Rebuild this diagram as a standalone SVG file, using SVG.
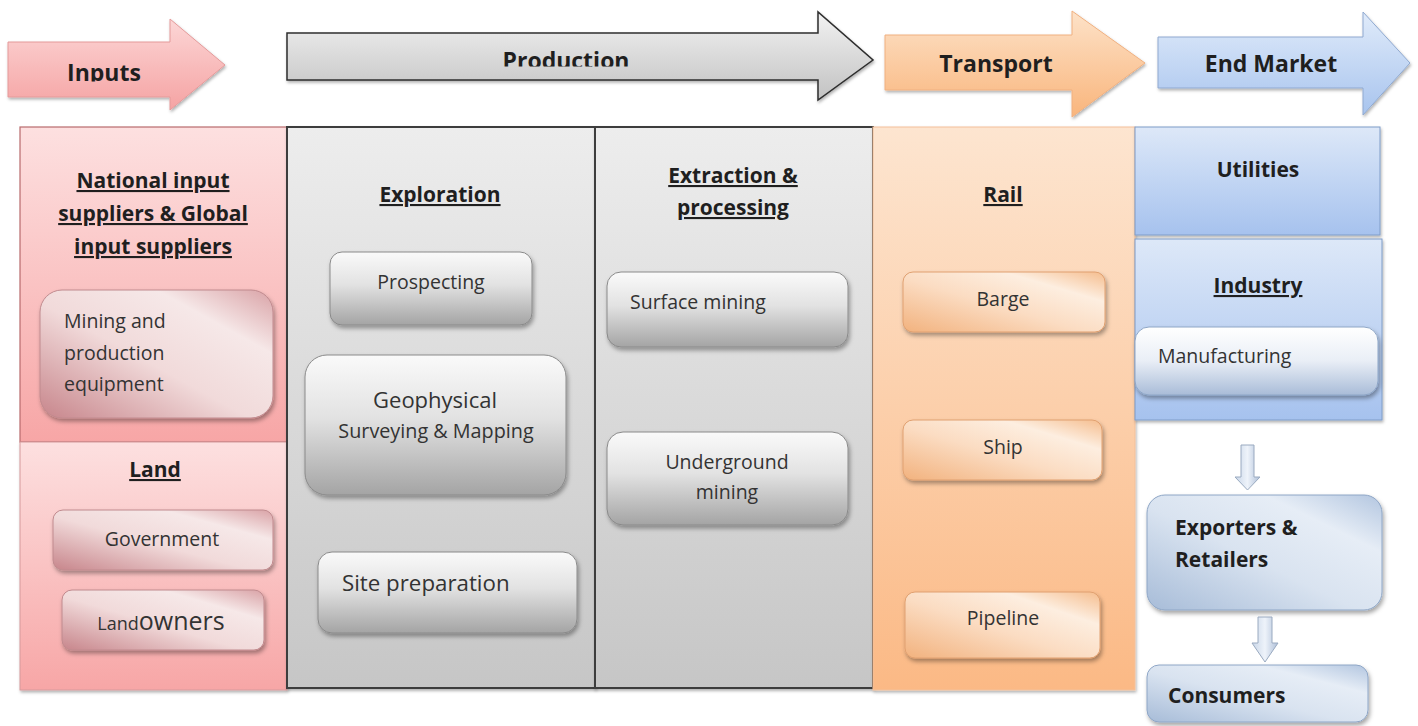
<svg xmlns="http://www.w3.org/2000/svg" width="1418" height="726" viewBox="0 0 1418 726">
  <defs>
    <style>
      text { font-family: "Open Sans", Lato, "Liberation Sans", sans-serif; fill: #262626; }
      .stage { font-weight: bold; font-size: 23px; fill: #1f1f1f; }
      .head { font-weight: bold; font-size: 21px; text-decoration: underline; fill: #1f1f1f; }
      .bold { font-weight: bold; font-size: 21px; fill: #1f1f1f; }
      .lbl { font-size: 19.5px; fill: #333; }
      .panel-grey { fill: url(#gGreyPanel); stroke: #3c3c3c; stroke-width: 2; }
      .box-grey { fill: url(#gGreyBox); stroke: #8a8a8a; stroke-width: 1; }
      .box-pink { fill: url(#gPinkBox); stroke: #c08a8e; stroke-width: 1; }
      .box-orange { fill: url(#gOrangeBox); stroke: #e0a070; stroke-width: 1; }
      .box-blue { fill: url(#gBlueBox); stroke: #8ea6c6; stroke-width: 1; }
    </style>

    <filter id="shadow" x="-10%" y="-10%" width="125%" height="135%">
      <feDropShadow dx="1.5" dy="3" stdDeviation="2" flood-color="#000" flood-opacity="0.35"/>
    </filter>
    <filter id="softShadow" x="-5%" y="-5%" width="112%" height="112%">
      <feDropShadow dx="1" dy="2" stdDeviation="1.5" flood-color="#000" flood-opacity="0.3"/>
    </filter>

    <!-- stage arrows -->
    <linearGradient id="gPinkArrow" x1="0" y1="0" x2="0" y2="1">
      <stop offset="0" stop-color="#fcd6d6"/>
      <stop offset="1" stop-color="#f5a3a3"/>
    </linearGradient>
    <linearGradient id="gGreyArrow" x1="0" y1="0" x2="0" y2="1">
      <stop offset="0" stop-color="#f2f2f2"/>
      <stop offset="1" stop-color="#c2c2c2"/>
    </linearGradient>
    <linearGradient id="gOrangeArrow" x1="0" y1="0" x2="0" y2="1">
      <stop offset="0" stop-color="#fde2c8"/>
      <stop offset="1" stop-color="#f9b57c"/>
    </linearGradient>
    <linearGradient id="gBlueArrow" x1="0" y1="0" x2="0" y2="1">
      <stop offset="0" stop-color="#e0ebfa"/>
      <stop offset="1" stop-color="#a8c4ee"/>
    </linearGradient>

    <!-- column panels -->
    <linearGradient id="gPinkPanel" x1="0" y1="0" x2="0" y2="1">
      <stop offset="0" stop-color="#fde0e0"/>
      <stop offset="1" stop-color="#f7a6a6"/>
    </linearGradient>
    <linearGradient id="gGreyPanel" x1="0" y1="0" x2="0" y2="1">
      <stop offset="0" stop-color="#ededed"/>
      <stop offset="1" stop-color="#c6c6c6"/>
    </linearGradient>
    <linearGradient id="gOrangePanel" x1="0" y1="0" x2="0" y2="1">
      <stop offset="0" stop-color="#fde5d0"/>
      <stop offset="1" stop-color="#fbb985"/>
    </linearGradient>
    <linearGradient id="gBluePanel" x1="0" y1="0" x2="0" y2="1">
      <stop offset="0" stop-color="#dde8f8"/>
      <stop offset="1" stop-color="#a6c2ee"/>
    </linearGradient>

    <!-- inner boxes -->
    <linearGradient id="gGreyBox" x1="0" y1="0" x2="0" y2="1">
      <stop offset="0" stop-color="#fafafa"/>
      <stop offset="0.45" stop-color="#e2e2e2"/>
      <stop offset="1" stop-color="#a4a4a4"/>
    </linearGradient>
    <linearGradient id="gPinkBox" x1="0" y1="1" x2="1" y2="0">
      <stop offset="0" stop-color="#c7858b"/>
      <stop offset="0.45" stop-color="#f1dada"/>
      <stop offset="0.75" stop-color="#f6e8e8"/>
      <stop offset="1" stop-color="#d9a2a6"/>
    </linearGradient>
    <linearGradient id="gOrangeBox" x1="0" y1="1" x2="1" y2="0">
      <stop offset="0" stop-color="#f2b27e"/>
      <stop offset="0.45" stop-color="#fbdcc2"/>
      <stop offset="0.75" stop-color="#fdeee0"/>
      <stop offset="1" stop-color="#f5bd8e"/>
    </linearGradient>
    <linearGradient id="gBlueBox" x1="0" y1="1" x2="1" y2="0">
      <stop offset="0" stop-color="#a7bcd8"/>
      <stop offset="0.45" stop-color="#d9e3f0"/>
      <stop offset="0.75" stop-color="#e6edf6"/>
      <stop offset="1" stop-color="#b3c6e0"/>
    </linearGradient>
    <linearGradient id="gWhiteBlueBox" x1="0" y1="0" x2="0" y2="1">
      <stop offset="0" stop-color="#ffffff"/>
      <stop offset="0.5" stop-color="#e9eef6"/>
      <stop offset="1" stop-color="#a9bcd8"/>
    </linearGradient>
    <linearGradient id="gSmallArrow" x1="0" y1="0" x2="1" y2="0">
      <stop offset="0" stop-color="#c9d6e8"/>
      <stop offset="0.5" stop-color="#eef3fa"/>
      <stop offset="1" stop-color="#aebfd8"/>
    </linearGradient>

    <clipPath id="clipInputs"><rect x="0" y="0" width="300" height="81.5"/></clipPath>
    <clipPath id="clipProduction"><rect x="280" y="0" width="600" height="66.5"/></clipPath>
  </defs>

  <rect width="1418" height="726" fill="#ffffff"/>

  <!-- stage arrows along the top -->
  <g id="stage-inputs">
    <path d="M8,42 H170 V19 L225,65 L170,110 V97 H8 Z" fill="url(#gPinkArrow)" stroke="#e49a9a" stroke-width="1" filter="url(#softShadow)"/>
    <text class="stage" x="104" y="81" text-anchor="middle" clip-path="url(#clipInputs)">Inputs</text>
  </g>
  <g id="stage-production">
    <path d="M287,33 H818 V12 L873,60 L818,100 V80 H287 Z" fill="url(#gGreyArrow)" stroke="#2e2e2e" stroke-width="1.5" filter="url(#softShadow)"/>
    <text class="stage" x="566" y="69" text-anchor="middle" clip-path="url(#clipProduction)">Production</text>
  </g>
  <g id="stage-transport">
    <path d="M885,35 H1072 V11 L1145,63 L1072,117 V90 H885 Z" fill="url(#gOrangeArrow)" stroke="#f0b080" stroke-width="1" filter="url(#softShadow)"/>
    <text class="stage" x="996" y="72" text-anchor="middle">Transport</text>
  </g>
  <g id="stage-end-market">
    <path d="M1158,37 H1363 V12 L1410,63 L1363,115 V88 H1158 Z" fill="url(#gBlueArrow)" stroke="#8fa9d0" stroke-width="1" filter="url(#softShadow)"/>
    <text class="stage" x="1271" y="72" text-anchor="middle">End Market</text>
  </g>

  <!-- Inputs column -->
  <g id="input-suppliers">
    <rect x="20" y="127" width="267" height="315" fill="url(#gPinkPanel)" stroke="#b86a6d" stroke-width="1.2"/>
    <text class="head" x="153" y="188" text-anchor="middle">National input</text>
    <text class="head" x="153" y="221" text-anchor="middle">suppliers &amp; Global</text>
    <text class="head" x="153" y="254" text-anchor="middle">input suppliers</text>
  </g>
  <g id="mining-equipment">
    <rect x="40" y="290" width="233" height="128" rx="22" class="box-pink" filter="url(#shadow)"/>
    <text class="lbl" x="64" y="328">Mining and</text>
    <text class="lbl" x="64" y="360">production</text>
    <text class="lbl" x="64" y="391">equipment</text>
  </g>
  <g id="land">
    <rect x="20" y="442" width="267" height="248" fill="url(#gPinkPanel)" stroke="#d69a9c" stroke-width="1" filter="url(#softShadow)"/>
    <text class="head" x="155" y="477" text-anchor="middle">Land</text>
  </g>
  <g id="government">
    <rect x="53" y="510" width="220" height="60" rx="10" class="box-pink" filter="url(#shadow)"/>
    <text class="lbl" x="162" y="546" text-anchor="middle">Government</text>
  </g>
  <g id="landowners">
    <rect x="62" y="590" width="202" height="60" rx="10" class="box-pink" filter="url(#shadow)"/>
    <text x="161" y="630" text-anchor="middle"><tspan class="lbl" style="font-size:18px">Land</tspan><tspan class="lbl" style="font-size:25px">owners</tspan></text>
  </g>

  <!-- Production: exploration -->
  <g id="exploration">
    <rect x="287" y="127" width="308" height="561" class="panel-grey" filter="url(#softShadow)"/>
    <text class="head" x="440" y="202" text-anchor="middle">Exploration</text>
  </g>
  <g id="prospecting">
    <rect x="330" y="252" width="202" height="73" rx="12" class="box-grey" filter="url(#shadow)"/>
    <text class="lbl" x="431" y="289" text-anchor="middle">Prospecting</text>
  </g>
  <g id="geophysical">
    <rect x="305" y="355" width="261" height="140" rx="22" class="box-grey" filter="url(#shadow)"/>
    <text class="lbl" x="435" y="408" text-anchor="middle" style="font-size:22px">Geophysical</text>
    <text class="lbl" x="436" y="438" text-anchor="middle" style="font-size:19.8px">Surveying &amp; Mapping</text>
  </g>
  <g id="site-preparation">
    <rect x="318" y="552" width="259" height="81" rx="14" class="box-grey" filter="url(#shadow)"/>
    <text class="lbl" x="342" y="591" style="font-size:22.3px">Site preparation</text>
  </g>

  <!-- Production: extraction & processing -->
  <g id="extraction">
    <rect x="595" y="127" width="278" height="561" class="panel-grey" filter="url(#softShadow)"/>
    <text class="head" x="733" y="183" text-anchor="middle">Extraction &amp;</text>
    <text class="head" x="733" y="215" text-anchor="middle">processing</text>
  </g>
  <g id="surface-mining">
    <rect x="607" y="272" width="241" height="75" rx="14" class="box-grey" filter="url(#shadow)"/>
    <text class="lbl" x="630" y="309">Surface mining</text>
  </g>
  <g id="underground-mining">
    <rect x="607" y="432" width="241" height="93" rx="16" class="box-grey" filter="url(#shadow)"/>
    <text class="lbl" x="727" y="469" text-anchor="middle">Underground</text>
    <text class="lbl" x="727" y="499" text-anchor="middle">mining</text>
  </g>

  <!-- Transport column -->
  <g id="rail">
    <rect x="873" y="127" width="262" height="563" fill="url(#gOrangePanel)" stroke="#f3c09a" stroke-width="1" filter="url(#softShadow)"/>
    <text class="head" x="1003" y="202" text-anchor="middle">Rail</text>
  </g>
  <g id="barge">
    <rect x="903" y="272" width="202" height="60" rx="10" class="box-orange" filter="url(#shadow)"/>
    <text class="lbl" x="1003" y="306" text-anchor="middle">Barge</text>
  </g>
  <g id="ship">
    <rect x="903" y="420" width="199" height="60" rx="10" class="box-orange" filter="url(#shadow)"/>
    <text class="lbl" x="1003" y="454" text-anchor="middle">Ship</text>
  </g>
  <g id="pipeline">
    <rect x="905" y="592" width="195" height="66" rx="10" class="box-orange" filter="url(#shadow)"/>
    <text class="lbl" x="1003" y="625" text-anchor="middle">Pipeline</text>
  </g>

  <!-- End market column -->
  <g id="utilities">
    <rect x="1135" y="127" width="245" height="108" fill="url(#gBluePanel)" stroke="#7f9cc8" stroke-width="1" filter="url(#softShadow)"/>
    <text class="bold" x="1258" y="177" text-anchor="middle">Utilities</text>
  </g>
  <g id="industry">
    <rect x="1135" y="239" width="247" height="181" fill="url(#gBluePanel)" stroke="#7f9cc8" stroke-width="1" filter="url(#softShadow)"/>
    <text class="head" x="1258" y="293" text-anchor="middle">Industry</text>
  </g>
  <g id="manufacturing">
    <rect x="1135" y="327" width="243" height="68" rx="14" fill="url(#gWhiteBlueBox)" stroke="#8ea6c6" stroke-width="1" filter="url(#shadow)"/>
    <text class="lbl" x="1158" y="363">Manufacturing</text>
  </g>
  <g id="exporters-retailers">
    <rect x="1147" y="495" width="235" height="115" rx="18" class="box-blue" filter="url(#shadow)"/>
    <text class="bold" x="1175" y="535">Exporters &amp;</text>
    <text class="bold" x="1175" y="567">Retailers</text>
  </g>
  <g id="consumers">
    <rect x="1147" y="665" width="221" height="57" rx="12" class="box-blue" filter="url(#shadow)"/>
    <text class="bold" x="1168" y="703">Consumers</text>
  </g>

  <!-- connectors between end-market stages -->
  <g id="connectors" fill="url(#gSmallArrow)" stroke="#9aaac0" stroke-width="1">
    <path d="M1241,445 H1254 V477 H1260 L1247.5,490 L1235,477 H1241 Z"/>
    <path d="M1258,617 H1272 V643 H1278 L1265,662 L1252,643 H1258 Z"/>
  </g>
</svg>
